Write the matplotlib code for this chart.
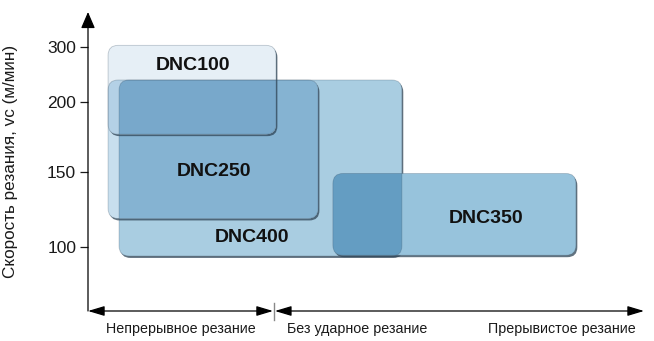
import numpy as np
import matplotlib
matplotlib.use("Agg")
import matplotlib.pyplot as plt
from matplotlib.patches import FancyBboxPatch
import matplotlib.patheffects as pe
from matplotlib.colors import to_rgb

plt.rcParams['font.family'] = ['Liberation Sans', 'DejaVu Sans']

# ---- data ----
names = ["DNC400", "DNC250", "DNC100", "DNC350"]
x_start = [0.167, 0.108, 0.108, 1.317]   # machining-condition axis (regions of width 1)
x_end = [1.688, 1.237, 1.011, 2.624]
v_low = [94, 119, 177, 94.5]             # cutting speed, m/min
v_high = [240, 240, 303, 149]
label_x = [0.882, 0.677, 0.565, 2.14]
label_v = [106, 150, 267, 119]
colors = ["#a9cde1", "#c8dfee", "#e6eff6", "#97c3dc"]

y_ticks = [100, 150, 200, 300]
region_labels = ["Непрерывное резание", "Без ударное резание", "Прерывистое резание"]
region_label_x = [0.5, 1.45, 2.55]
region_bounds = [0, 1, 2.99]
ylabel = "Скорость резания, vc (м/мин)"

# ---- non-linear speed scale (as drawn in the original) ----
Y_POS = [64, 139, 209, 264]


def fwd(v):
    v = np.asarray(v, float)
    lo = Y_POS[0] + (v - y_ticks[0]) * 1.5
    hi = Y_POS[-1] + (v - y_ticks[-1]) * 0.55
    mid = np.interp(v, y_ticks, Y_POS)
    return np.where(v < y_ticks[0], lo, np.where(v > y_ticks[-1], hi, mid))


def inv(p):
    p = np.asarray(p, float)
    lo = y_ticks[0] + (p - Y_POS[0]) / 1.5
    hi = y_ticks[-1] + (p - Y_POS[-1]) / 0.55
    mid = np.interp(p, Y_POS, y_ticks)
    return np.where(p < Y_POS[0], lo, np.where(p > Y_POS[-1], hi, mid))


fig = plt.figure(figsize=(6.54, 3.41), dpi=100)
W, H = 654, 341
ax = fig.add_axes([88 / W, 30 / H, 556 / W, 299 / H])
ax.set_yscale('function', functions=(fwd, inv))
ax.set_xlim(region_bounds[0], region_bounds[-1])
ax.set_ylim(float(inv(0)), float(inv(299)))
for s in ax.spines.values():
    s.set_visible(False)
ax.set_xticks([])
ax.set_yticks(y_ticks)
ax.set_yticklabels([str(t) for t in y_ticks])
ax.yaxis.set_minor_locator(matplotlib.ticker.NullLocator())
ax.tick_params(axis='y', length=6, width=0.9, pad=2.5, labelsize=12.5, colors='#1a1a1a')
ax.set_ylabel(ylabel, fontsize=12.3, color='#1a1a1a')
ax.yaxis.set_label_coords(-(88 - 18) / 556, 0.5)

# scaled-space transform so rounded corners stay round
T = ax.transLimits + ax.transAxes
px_per_x = 556 / (region_bounds[-1] - region_bounds[0])
r = 10 / px_per_x


def make_patch(i, color, shadow=True, z=1):
    y0, y1 = float(fwd(v_low[i])), float(fwd(v_high[i]))
    p = FancyBboxPatch((x_start[i], y0), x_end[i] - x_start[i], y1 - y0,
                       boxstyle=f"round,pad=0,rounding_size={r}",
                       mutation_aspect=px_per_x, transform=T,
                       facecolor=color, edgecolor='none', zorder=z)
    if shadow:
        p.set_path_effects([pe.SimplePatchShadow(offset=(1.0, -1.4), shadow_rgbFace='#2e4456', alpha=0.75),
                            pe.Normal()])
    ax.add_patch(p)
    return p


def mult(*cs):
    out = np.ones(3)
    for c in cs:
        out = out * np.array(to_rgb(c))
    return tuple(out)


patches = {}
# DNC400
patches[0] = make_patch(0, colors[0], z=1)
# DNC250 + overlap with DNC400
patches[1] = make_patch(1, colors[1], z=2)
ov = make_patch(1, mult(colors[1], colors[0]), shadow=False, z=2.1)
ov.set_clip_path(patches[0])
# DNC100 + overlaps with DNC250 and DNC400
patches[2] = make_patch(2, colors[2], z=3)
ov = make_patch(2, mult(colors[2], colors[1]), shadow=False, z=3.1)
ov.set_clip_path(patches[1])
ov = make_patch(2, mult(colors[2], colors[1], colors[0]), shadow=False, z=3.2)
ov.set_clip_path(patches[0])
# DNC350 + overlap with DNC400
patches[3] = make_patch(3, colors[3], z=4)
ov = make_patch(3, mult(colors[3], colors[0]), shadow=False, z=4.1)
ov.set_clip_path(patches[0])

# faint edges of lower boxes showing through
for i in range(4):
    y0, y1 = float(fwd(v_low[i])), float(fwd(v_high[i]))
    e = FancyBboxPatch((x_start[i], y0), x_end[i] - x_start[i], y1 - y0,
                       boxstyle=f"round,pad=0,rounding_size={r}",
                       mutation_aspect=px_per_x, transform=T,
                       facecolor='none', edgecolor='#3a5266', lw=0.6, alpha=0.3, zorder=5)
    ax.add_patch(e)

for i, n in enumerate(names):
    ax.text(label_x[i], label_v[i], n, ha='center', va='center', fontsize=14,
            fontweight='bold', color='#111111', zorder=6)

# axes arrows
ax.annotate('', xy=(0, 1), xytext=(0, 0), xycoords='axes fraction',
            arrowprops=dict(arrowstyle='-|>,head_length=1.0,head_width=0.43', mutation_scale=10,
                            color='black', lw=0.9, shrinkA=0, shrinkB=0), annotation_clip=False)
xt = ax.get_xaxis_transform()
ax.annotate('', xy=(region_bounds[1], 0), xytext=(region_bounds[0], 0), xycoords=xt,
            arrowprops=dict(arrowstyle='<|-|>,head_length=1.0,head_width=0.3', mutation_scale=10,
                            color='black', lw=0.9, shrinkA=0, shrinkB=0.7), annotation_clip=False)
ax.annotate('', xy=(region_bounds[2], 0), xytext=(region_bounds[1], 0), xycoords=xt,
            arrowprops=dict(arrowstyle='<|-|>,head_length=1.0,head_width=0.3', mutation_scale=10,
                            color='black', lw=0.9, shrinkA=0.7, shrinkB=0), annotation_clip=False)
ax.plot([region_bounds[1], region_bounds[1]], [8 / 299, -9 / 299], transform=xt,
        color='#888888', lw=1.0, clip_on=False)

for lx, lt in zip(region_label_x, region_labels):
    ax.text(lx, -18 / 299, lt, transform=xt, ha='center', va='center', fontsize=10.3, color='#1a1a1a')

fig.savefig("out.png", dpi=100)
